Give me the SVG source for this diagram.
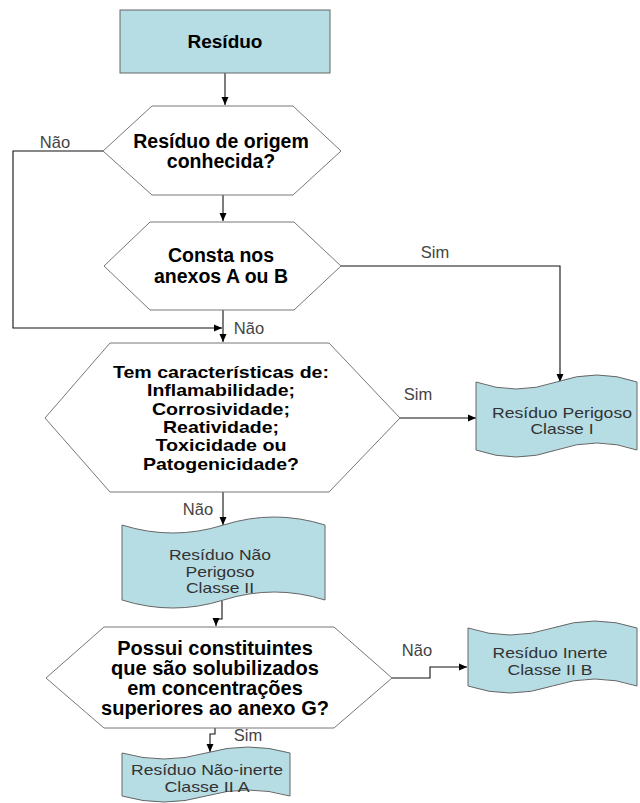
<svg xmlns="http://www.w3.org/2000/svg" width="640" height="803" viewBox="0 0 640 803">
<defs>
<marker id="arr" markerWidth="8" markerHeight="8" refX="8" refY="4" orient="auto" markerUnits="userSpaceOnUse">
<path d="M0,0.5 L8,4 L0,7.5 Z" fill="#000"/>
</marker>
<style>
.box{fill:#b6dce4;stroke:#666;stroke-width:1}
.hex{fill:#fff;stroke:#777;stroke-width:1}
.doc{fill:#b6dce4;stroke:#666;stroke-width:1}
.ln{fill:none;stroke:#111;stroke-width:1.1}
.q{font-family:"Liberation Sans",Arial,sans-serif;font-weight:bold;fill:#000;text-anchor:middle}
.q3{font-family:"Liberation Sans",Arial,sans-serif;font-weight:bold;font-size:17px;fill:#000;text-anchor:middle}
.d{font-family:"Liberation Sans",Arial,sans-serif;font-size:14.5px;fill:#333;text-anchor:middle}
.lb{font-family:"Liberation Sans",Arial,sans-serif;font-size:16.5px;fill:#444;text-anchor:middle}
</style>
</defs>
<rect width="640" height="803" fill="#fff"/>

<g id="connectors">
<path class="ln" d="M225,73 V105" marker-end="url(#arr)"/>
<path class="ln" d="M103,151 H13 V328 H222" marker-end="url(#arr)"/>
<path class="ln" d="M223,195 V221" marker-end="url(#arr)"/>
<path class="ln" d="M341,266 H560 V382" marker-end="url(#arr)"/>
<path class="ln" d="M223,310 V342" marker-end="url(#arr)"/>
<path class="ln" d="M400,418 H476" marker-end="url(#arr)"/>
<path class="ln" d="M223,492 V525" marker-end="url(#arr)"/>
<path class="ln" d="M222,601 V619 H216 V626" marker-end="url(#arr)"/>
<path class="ln" d="M392,678 H430 V667 H467" marker-end="url(#arr)"/>
<path class="ln" d="M215,728 V734 H210 V752" marker-end="url(#arr)"/>
<text class="lb" x="55" y="148">Não</text>
<text class="lb" x="435" y="258">Sim</text>
<text class="lb" x="249" y="334">Não</text>
<text class="lb" x="418" y="400">Sim</text>
<text class="lb" x="198" y="515">Não</text>
<text class="lb" x="417" y="656">Não</text>
<text class="lb" x="248" y="741">Sim</text>
</g>

<g id="n-residuo">
<rect class="box" x="120" y="10" width="210" height="63"/>
<text class="q" x="225" y="48" font-size="19">Resíduo</text>
</g>

<g id="n-origem">
<polygon class="hex" points="152,106 293,106 341,151 293,195 152,195 103,151"/>
<text class="q" x="221" y="148" font-size="19.5">Resíduo de origem</text>
<text class="q" x="221" y="168" font-size="19.5">conhecida?</text>
</g>

<g id="n-anexos">
<polygon class="hex" points="150,222 294,222 341,266 294,310 150,310 104,266"/>
<text class="q" x="221" y="262" font-size="19.5">Consta nos</text>
<text class="q" x="221" y="283" font-size="19.5">anexos A ou B</text>
</g>

<g id="n-caracteristicas">
<polygon class="hex" points="110,343 329,343 400,418 329,492 110,492 45,418"/>
<text class="q3" x="221" y="378" textLength="216" lengthAdjust="spacingAndGlyphs">Tem características de:</text>
<text class="q3" x="221" y="396.3" textLength="148" lengthAdjust="spacingAndGlyphs">Inflamabilidade;</text>
<text class="q3" x="221" y="414.6" textLength="138" lengthAdjust="spacingAndGlyphs">Corrosividade;</text>
<text class="q3" x="221" y="432.9" textLength="116" lengthAdjust="spacingAndGlyphs">Reatividade;</text>
<text class="q3" x="221" y="451.2" textLength="131" lengthAdjust="spacingAndGlyphs">Toxicidade ou</text>
<text class="q3" x="221" y="469.5" textLength="156" lengthAdjust="spacingAndGlyphs">Patogenicidade?</text>
</g>

<g id="n-perigoso">
<path class="doc" d="M476,382 Q516,396 556.5,382 T637,382 L637,450 Q597,436 556.5,450 T476,450 Z"/>
<text class="d" x="562" y="418" textLength="140" lengthAdjust="spacingAndGlyphs">Resíduo Perigoso</text>
<text class="d" x="562" y="433.5" textLength="63" lengthAdjust="spacingAndGlyphs">Classe I</text>
</g>

<g id="n-nao-perigoso">
<path class="doc" d="M122,525 Q172.75,541 223.5,525 T325,525 L325,600 Q274.25,584 223.5,600 T122,600 Z"/>
<text class="d" x="220" y="560" textLength="102" lengthAdjust="spacingAndGlyphs">Resíduo Não</text>
<text class="d" x="220" y="576.5" textLength="69" lengthAdjust="spacingAndGlyphs">Perigoso</text>
<text class="d" x="220" y="593" textLength="68" lengthAdjust="spacingAndGlyphs">Classe II</text>
</g>

<g id="n-solubilizados">
<polygon class="hex" points="104,627 334,627 392,678 334,728 104,728 46,678"/>
<text class="q" x="215" y="655" font-size="20">Possui constituintes</text>
<text class="q" x="215" y="675" font-size="20">que são solubilizados</text>
<text class="q" x="215" y="695" font-size="20">em concentrações</text>
<text class="q" x="215" y="715" font-size="20">superiores ao anexo G?</text>
</g>

<g id="n-inerte">
<path class="doc" d="M468,628 Q510,642 552.5,628 T637,628 L637,686 Q595,672 552.5,686 T468,686 Z"/>
<text class="d" x="550" y="658" textLength="115" lengthAdjust="spacingAndGlyphs">Resíduo Inerte</text>
<text class="d" x="550" y="675" textLength="85" lengthAdjust="spacingAndGlyphs">Classe II B</text>
</g>

<g id="n-nao-inerte">
<path class="doc" d="M122,753 Q164,765 206,753 T290,753 L290,796 Q248,784 206,796 T122,796 Z"/>
<text class="d" x="207" y="775" textLength="152" lengthAdjust="spacingAndGlyphs">Resíduo Não-inerte</text>
<text class="d" x="207" y="792" textLength="85" lengthAdjust="spacingAndGlyphs">Classe II A</text>
</g>
</svg>
